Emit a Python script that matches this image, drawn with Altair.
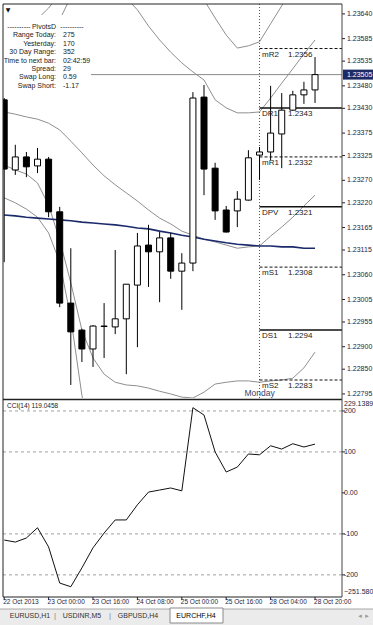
import altair as alt
import pandas as pd

# ---------------- data ----------------
bar_index = list(range(29))
opens  = [1.23449, 1.23293, 1.23322, 1.23302, 1.23317, 1.23200, 1.22997, 1.22937, 1.22895, 1.22945,
          1.22944, 1.22962, 1.23037, 1.23126, 1.23111, 1.23142, 1.23068, 1.23086, 1.23455, 1.23297,
          1.23204, 1.23202, 1.23226, 1.23326, 1.23333, 1.23373, 1.23426, 1.23460, 1.23471]
highs  = [1.23453, 1.23349, 1.23333, 1.23342, 1.23322, 1.23211, 1.23119, 1.22940, 1.22948, 1.22997,
          1.23115, 1.23039, 1.23153, 1.23171, 1.23155, 1.23153, 1.23108, 1.23466, 1.23482, 1.23309,
          1.23213, 1.23246, 1.23337, 1.23344, 1.23480, 1.23464, 1.23469, 1.23489, 1.23544]
lows   = [1.23088, 1.23282, 1.23277, 1.23286, 1.23188, 1.22988, 1.22815, 1.22866, 1.22855, 1.22875,
          1.22928, 1.22839, 1.22899, 1.23033, 1.22999, 1.23051, 1.22982, 1.23068, 1.23237, 1.23182,
          1.23154, 1.23166, 1.23225, 1.23271, 1.23315, 1.23297, 1.23425, 1.23440, 1.23442]
closes = [1.23295, 1.23322, 1.23300, 1.23317, 1.23200, 1.22997, 1.22933, 1.22895, 1.22946, 1.22946,
          1.22962, 1.23039, 1.23124, 1.23111, 1.23142, 1.23068, 1.23086, 1.23453, 1.23295, 1.23202,
          1.23155, 1.23228, 1.23320, 1.23333, 1.23375, 1.23426, 1.23460, 1.23471, 1.23505]

upper3 = [1.23613, 1.23615, 1.23618, 1.23629, 1.23653, 1.23684, 1.23738, 1.23804, 1.23849, 1.23871,
          1.23882, 1.23882, 1.23871, 1.23849, 1.23827, 1.23804, 1.23782, 1.23738, 1.23671, 1.23631,
          1.23593, 1.23564, 1.23569, 1.23578, 1.23618, 1.23658, 1.23698, 1.23738, 1.23782]
upper2 = [1.23540, 1.23542, 1.23538, 1.23549, 1.23580, 1.23627, 1.23678, 1.23724, 1.23733, 1.23720,
          1.23698, 1.23675, 1.23649, 1.23613, 1.23582, 1.23555, 1.23531, 1.23511, 1.23493, 1.23449,
          1.23431, 1.23420, 1.23420, 1.23422, 1.23453, 1.23486, 1.23518, 1.23551, 1.23582]
middle = [1.23422, 1.23417, 1.23411, 1.23406, 1.23397, 1.23382, 1.23357, 1.23331, 1.23304, 1.23280,
          1.23260, 1.23242, 1.23224, 1.23204, 1.23186, 1.23173, 1.23157, 1.23148, 1.23139, 1.23133,
          1.23126, 1.23119, 1.23122, 1.23124, 1.23146, 1.23166, 1.23188, 1.23213, 1.23237]
lower2 = [1.23304, 1.23293, 1.23284, 1.23264, 1.23215, 1.23137, 1.23042, 1.22937, 1.22875, 1.22839,
          1.22821, 1.22815, 1.22813, 1.22808, 1.22801, 1.22795, 1.22788, 1.22786, 1.22799, 1.22817,
          1.22821, 1.22824, 1.22824, 1.22821, 1.22824, 1.22826, 1.22830, 1.22853, 1.22888]
lower3 = [1.23231, 1.23220, 1.23206, 1.23188, 1.23153, 1.23088, 1.22964, 1.22792, 1.22670, 1.22626,
          1.22603, 1.22592, 1.22581, 1.22570, 1.22570, 1.22570, 1.22575, 1.22580, 1.22600, 1.22620,
          1.22640, 1.22660, 1.22665, 1.22670, 1.22675, 1.22680, 1.22690, 1.22700, 1.22710]
slow_ma = [1.23193, 1.23191, 1.23188, 1.23186, 1.23184, 1.23182, 1.23180, 1.23177, 1.23175, 1.23173,
           1.23171, 1.23168, 1.23164, 1.23162, 1.23157, 1.23153, 1.23148, 1.23144, 1.23139, 1.23135,
           1.23131, 1.23128, 1.23126, 1.23124, 1.23124, 1.23122, 1.23122, 1.23119, 1.23119]

cci = [-115, -120, -110, -85, -132, -220, -229, -183, -134, -98, -66, -66, -29, 2, 7, 12, 5, 208, 190,
       100, 51, 63, 95, 93, 115, 107, 120, 112, 119.0458]

pivot_names  = ["mR2", "DR1", "mR1", "DPV", "mS1", "DS1", "mS2"]
pivot_values = [1.23563, 1.23431, 1.23322, 1.23211, 1.23077, 1.22937, 1.22826]
pivot_styles = ["mid", "main", "mid", "main", "mid", "main", "mid"]
day_start_bar = 23
bid_price = 1.23505

price_ticks = [1.23640, 1.23585, 1.23535, 1.23480, 1.23430, 1.23375, 1.23325, 1.23270, 1.23220,
               1.23165, 1.23115, 1.23060, 1.23005, 1.22955, 1.22900, 1.22850, 1.22795]
cci_levels = [200, 100, -100, -200]
cci_tick_values = [200, 100, 0, -100, -200]
cci_tick_labels = ["200", "100", "0.00", "-100", "-200"]
cci_max, cci_min = 229.1389, -251.5804

time_tick_bars = [0, 4, 8, 12, 16, 20, 24, 28]
time_tick_labels = ["22 Oct 2013", "23 Oct 00:00", "23 Oct 16:00", "24 Oct 08:00",
                    "25 Oct 00:00", "25 Oct 16:00", "28 Oct 04:00", "28 Oct 20:00"]

info_labels = ["Range Today:", "Yesterday:", "30 Day Range:", "Time to next bar:",
               "Spread:", "Swap Long:", "Swap Short:"]
info_values = ["275", "170", "352", "02:42:59", "29", "0.59", "-1.17"]
tabs = ["EURUSD,H1", "USDINR,M5", "GBPUSD,H4", "EURCHF,H4"]

# ---------------- layout ----------------
OX, OY = 3, 4          # page offset of plot view
W, H = 339, 394
FONT = "Liberation Sans"
AX = "#1e1e3c"

X = alt.Scale(domain=[-0.108, 30.43], nice=False, zero=False, padding=0)
PY = alt.Scale(domain=[1.22786, 1.23662], nice=False, zero=False, padding=0)
CY = alt.Scale(domain=[cci_min, cci_max], range=[592, 395], nice=False, zero=False, padding=0)


def xq(f):
    return alt.X(f, type="quantitative", scale=X, axis=None)


def yp(f):
    return alt.Y(f, type="quantitative", scale=PY, axis=None)


def yc(f):
    return alt.Y(f, type="quantitative", scale=CY, axis=None)


def one(t=""):
    return pd.DataFrame({"t": [t]})


def label(txt, x, y, size=7, color="#222222", align="left", baseline="middle", font=FONT):
    return alt.Chart(one(txt)).mark_text(
        align=align, baseline=baseline, fontSize=size, color=color, font=font
    ).encode(x=alt.value(x - OX), y=alt.value(y - OY), text="t:N")


def hrule(x1, x2, y, color="#333333", width=1.0, dash=None):
    kw = dict(color=color, strokeWidth=width)
    if dash:
        kw["strokeDash"] = dash
    return alt.Chart(one()).mark_rule(**kw).encode(
        x=alt.value(x1 - OX), x2=alt.value(x2 - OX), y=alt.value(y - OY))


def vrule(x, y1, y2, color="#333333", width=1.0):
    return alt.Chart(one()).mark_rule(color=color, strokeWidth=width).encode(
        x=alt.value(x - OX), y=alt.value(y1 - OY), y2=alt.value(y2 - OY))


def rect(x1, x2, y1, y2, fill, stroke=None):
    kw = dict(fill=fill)
    if stroke:
        kw.update(stroke=stroke, strokeWidth=1)
    return alt.Chart(one()).mark_rect(**kw).encode(
        x=alt.value(x1 - OX), x2=alt.value(x2 - OX), y=alt.value(y1 - OY), y2=alt.value(y2 - OY))


cdf = pd.DataFrame({"i": bar_index, "o": opens, "h": highs, "l": lows, "c": closes})
cdf["dir"] = ["up" if c >= o else "down" for o, c in zip(opens, closes)]

band_rows = []
for name, arr in [("u3", upper3), ("u2", upper2), ("m", middle), ("l2", lower2), ("l3", lower3)]:
    for i, v in zip(bar_index, arr):
        band_rows.append({"i": i, "v": v, "s": name})
bdf = pd.DataFrame(band_rows)
madf = pd.DataFrame({"i": bar_index, "v": slow_ma})
ccidf = pd.DataFrame({"i": bar_index, "v": cci})
pdf = pd.DataFrame({"name": pivot_names, "v": pivot_values, "style": pivot_styles,
                    "i": [day_start_bar] * len(pivot_names)})

layers = []

bands = alt.Chart(bdf).mark_line(color="#8f8f8f", strokeWidth=1, clip=True).encode(
    x=xq("i"), y=yp("v"), detail="s:N")
ma = alt.Chart(madf).mark_line(color="#1b2a6b", strokeWidth=1.6, clip=True).encode(
    x=xq("i"), y=yp("v"))
layers += [bands, ma]

# bid line
layers.append(alt.Chart(pd.DataFrame({"v": [bid_price]})).mark_rule(color="#8a8a8a", strokeWidth=1).encode(
    y=yp("v"), x=alt.value(90 - OX), x2=alt.value(W)))

# day separator
layers.append(alt.Chart(pd.DataFrame({"i": [day_start_bar]})).mark_rule(
    color="#555555", strokeWidth=1, strokeDash=[1, 2]).encode(
    x=xq("i"), y=alt.value(0), y2=alt.value(H)))

# pivots
layers.append(alt.Chart(pdf[pdf["style"] == "main"]).mark_rule(color="#111111", strokeWidth=1.5).encode(
    x=xq("i"), x2=alt.value(W), y=yp("v")))
layers.append(alt.Chart(pdf[pdf["style"] == "mid"]).mark_rule(
    color="#111111", strokeWidth=1, strokeDash=[3, 2]).encode(x=xq("i"), x2=alt.value(W), y=yp("v")))

# candles
layers.append(alt.Chart(cdf).mark_rule(color="black", strokeWidth=1, clip=True).encode(
    x=xq("i"), y=yp("l"), y2="h"))
layers.append(alt.Chart(cdf).mark_bar(size=6, stroke="black", strokeWidth=1, clip=True).encode(
    x=xq("i"), y=yp("o"), y2="c",
    fill=alt.Fill("dir:N", scale=alt.Scale(domain=["up", "down"], range=["white", "black"]), legend=None)))

# pivot labels (drawn over candles, as in the terminal)
layers.append(alt.Chart(pdf).mark_text(align="left", baseline="middle", dy=6, fontSize=8,
                                      font=FONT, color="#222222").encode(
    x=alt.value(262 - OX), y=yp("v"), text="name:N"))
layers.append(alt.Chart(pdf).mark_text(align="left", baseline="middle", dy=6, fontSize=8,
                                      font=FONT, color="#222222").encode(
    x=alt.value(288 - OX), y=yp("v"), text=alt.Text("v:Q", format=".4f")))

# Monday
layers.append(alt.Chart(pd.DataFrame({"i": [day_start_bar], "t": ["Monday"]})).mark_text(
    align="center", baseline="middle", fontSize=8.5, font=FONT, color="#34436e").encode(
    x=xq("i"), y=alt.value(393 - OY), text="t:N"))

# info box
layers.append(rect(3, 91, 15, 90, "white"))
layers.append(label("▼", 8, 10, size=6, color="#111111", align="center", font="DejaVu Sans"))
layers.append(label("----------", 19, 27, align="center"))
layers.append(label("PivotsD", 44, 27, align="center"))
layers.append(label("----------", 72, 27, align="center"))
for k, (lab, val) in enumerate(zip(info_labels, info_values)):
    yy = 35.4 + 8.4 * k
    layers.append(label(lab, 56, yy, align="right"))
    layers.append(label(val, 63, yy))

# price axis
ptdf = pd.DataFrame({"v": price_ticks})
layers.append(alt.Chart(ptdf).mark_rule(color=AX, strokeWidth=1).encode(
    y=yp("v"), x=alt.value(W), x2=alt.value(W + 3)))
layers.append(alt.Chart(ptdf).mark_text(align="left", baseline="middle", fontSize=7, font=FONT,
                                        color=AX).encode(
    y=yp("v"), x=alt.value(347 - OX), text=alt.Text("v:Q", format=".5f")))
biddf = pd.DataFrame({"v": [bid_price]})
layers.append(alt.Chart(biddf).mark_rule(color="#1c2a66", strokeWidth=10).encode(
    y=yp("v"), x=alt.value(343 - OX), x2=alt.value(373 - OX)))
layers.append(alt.Chart(biddf).mark_text(align="left", baseline="middle", fontSize=7, font=FONT,
                                         color="white").encode(
    y=yp("v"), x=alt.value(347 - OX), text=alt.Text("v:Q", format=".5f")))

# CCI panel
layers.append(alt.Chart(pd.DataFrame({"v": cci_levels})).mark_rule(
    color="#a0a0a0", strokeWidth=1, strokeDash=[3, 3]).encode(
    y=yc("v"), x=alt.value(0), x2=alt.value(W)))
layers.append(alt.Chart(ccidf).mark_line(color="#111111", strokeWidth=1).encode(x=xq("i"), y=yc("v")))
layers.append(label("CCI(14) 119.0458", 7, 406, size=6.5, color="#222222"))
ctdf = pd.DataFrame({"v": cci_tick_values, "t": cci_tick_labels})
layers.append(alt.Chart(ctdf).mark_rule(color=AX, strokeWidth=1).encode(
    y=yc("v"), x=alt.value(W), x2=alt.value(W + 3)))
layers.append(alt.Chart(ctdf).mark_text(align="left", baseline="middle", fontSize=7, font=FONT,
                                        color=AX).encode(y=yc("v"), x=alt.value(344 - OX), text="t:N"))
layers.append(alt.Chart(pd.DataFrame({"v": [cci_max]})).mark_text(
    align="left", baseline="top", dy=1, fontSize=7, font=FONT, color=AX).encode(
    y=yc("v"), x=alt.value(344 - OX), text=alt.Text("v:Q", format=".4f")))
layers.append(alt.Chart(pd.DataFrame({"v": [cci_min]})).mark_text(
    align="left", baseline="bottom", dy=-1, fontSize=7, font=FONT, color=AX).encode(
    y=yc("v"), x=alt.value(344 - OX), text=alt.Text("v:Q", format=".4f")))

# frame
layers.append(hrule(3, 342, 4, color="#222222"))
layers.append(hrule(3, 342, 399.5, color="#222222", width=1.6))
layers.append(hrule(3, 342, 597, color="#222222"))
layers.append(vrule(3, 4, 597, color="#222222"))
layers.append(vrule(342, 4, 597, color="#444444"))

# time axis
tdf = pd.DataFrame({"i": time_tick_bars, "t": time_tick_labels})
layers.append(alt.Chart(tdf).mark_rule(color=AX, strokeWidth=1).encode(
    x=xq("i"), y=alt.value(597 - OY), y2=alt.value(600 - OY)))
layers.append(alt.Chart(tdf).mark_text(align="left", baseline="middle", dx=-1, fontSize=6.5,
                                       font=FONT, color=AX).encode(
    x=xq("i"), y=alt.value(602 - OY), text="t:N"))

# tab bar
layers.append(rect(0, 373, 609, 625, "#ebebeb"))
layers.append(hrule(0, 373, 609, color="#a8a8a8"))
layers.append(rect(170, 223, 608, 623, "white", stroke="#8a8a8a"))
tab_centers = [30, 82, 138, 196]
for name, cx in zip(tabs, tab_centers):
    layers.append(label(name, cx, 616, size=7, color="#333333" if name != tabs[-1] else "#000000",
                        align="center"))
layers.append(label("|", 55, 616, size=8, color="#888888", align="center"))
layers.append(label("|", 110, 616, size=8, color="#888888", align="center"))
layers.append(label("◂", 360, 616, size=7, color="#9a9a9a", align="center", font="DejaVu Sans"))
layers.append(label("▸", 367, 616, size=7, color="#9a9a9a", align="center", font="DejaVu Sans"))

chart = alt.layer(*layers).resolve_scale(y="independent").properties(
    width=W, height=H,
    padding={"left": OX, "top": OY, "right": 373 - OX - W, "bottom": 625 - OY - H},
    autosize=alt.AutoSizeParams(type="none"),
    background="white",
).configure_view(stroke=None)

chart.save("out.html", embed_options={"renderer": "svg", "actions": False})
